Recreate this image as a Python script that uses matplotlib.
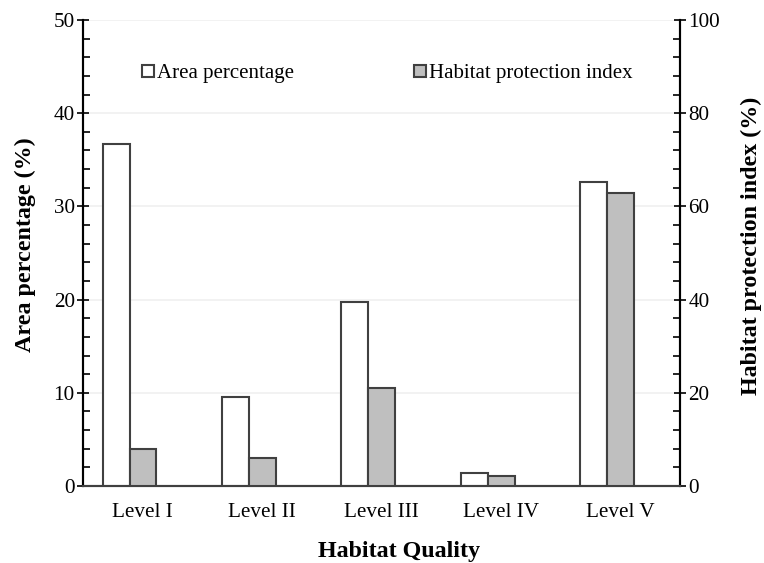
import matplotlib.pyplot as plt
import matplotlib.patches as mpatches
import numpy as np

plt.rcParams["font.family"] = ["Liberation Serif", "DejaVu Serif"]

levels = ["Level I", "Level II", "Level III", "Level IV", "Level V"]
area_pct = [36.7, 9.5, 19.7, 1.4, 32.6]
protection_idx = [7.9, 6.1, 21.1, 2.1, 62.9]

edge = "#404040"
grey = "#bfbfbf"
bar_w = 0.225

fig = plt.figure(figsize=(7.64, 5.63), dpi=100)
ax = fig.add_axes([0.1086, 0.1368, 0.7814, 0.8277])
ax2 = ax.twinx()

x = np.arange(len(levels))
ax.bar(x - bar_w / 2 - 0.11, area_pct, width=bar_w, facecolor="white",
       edgecolor=edge, linewidth=1.5, zorder=3)
ax2.bar(x + 0.003, protection_idx, width=bar_w, facecolor=grey,
        edgecolor=edge, linewidth=1.5, zorder=3)

ax.set_xlim(-0.5, 4.5)
ax.set_ylim(0, 50)
ax2.set_ylim(0, 100)
ax.set_xticks(x)
ax.set_xticklabels(levels, fontsize=15.2)
ax.set_yticks(np.arange(0, 51, 10))
ax.set_yticks(np.arange(0, 51, 2), minor=True)
ax2.set_yticks(np.arange(0, 101, 20))
ax2.set_yticks(np.arange(0, 101, 4), minor=True)
ax.grid(axis="y", color="#f0f0f0", linewidth=1.2, zorder=0)
ax.set_axisbelow(True)

ax.tick_params(axis="x", length=0, pad=12)
ax.tick_params(axis="y", which="major", direction="inout", length=8,
               width=1.2, labelsize=15.2, pad=2)
ax.tick_params(axis="y", which="minor", direction="in", length=5, width=1.2)
ax2.tick_params(axis="y", which="major", direction="inout", length=8,
                width=1.2, labelsize=15.2, pad=2)
ax2.tick_params(axis="y", which="minor", direction="in", length=5, width=1.2)

for a in (ax, ax2):
    a.spines["top"].set_visible(False)
    a.spines["left"].set_linewidth(1.5)
    a.spines["right"].set_linewidth(1.5)
    a.spines["bottom"].set_color(edge)
    a.spines["bottom"].set_linewidth(1.5)

# axis titles, placed a little above the axes' vertical centre
fig.text(25 / 764, 1 - 245 / 563, "Area percentage (%)", fontsize=17.3,
         fontweight="bold", rotation=90, ha="center", va="center")
fig.text(751 / 764, 1 - 246 / 563, "Habitat protection index (%)",
         fontsize=17.3, fontweight="bold", rotation=90, ha="center",
         va="center")
fig.text(399 / 764, 1 - 552 / 563, "Habitat Quality", fontsize=17.3,
         fontweight="bold", ha="center", va="center")

handles = [
    mpatches.Patch(facecolor="white", edgecolor=edge, linewidth=1.5,
                   label="Area percentage"),
    mpatches.Patch(facecolor=grey, edgecolor=edge, linewidth=1.5,
                   label="Habitat protection index"),
]
ax.legend(handles=handles, ncol=2, frameon=False, fontsize=15,
          handlelength=0.55, handleheight=0.55, handletextpad=0.15,
          columnspacing=5.8, loc="upper left",
          bbox_to_anchor=(0.085, 0.923), borderaxespad=0)

fig.savefig("out.png", dpi=100)
